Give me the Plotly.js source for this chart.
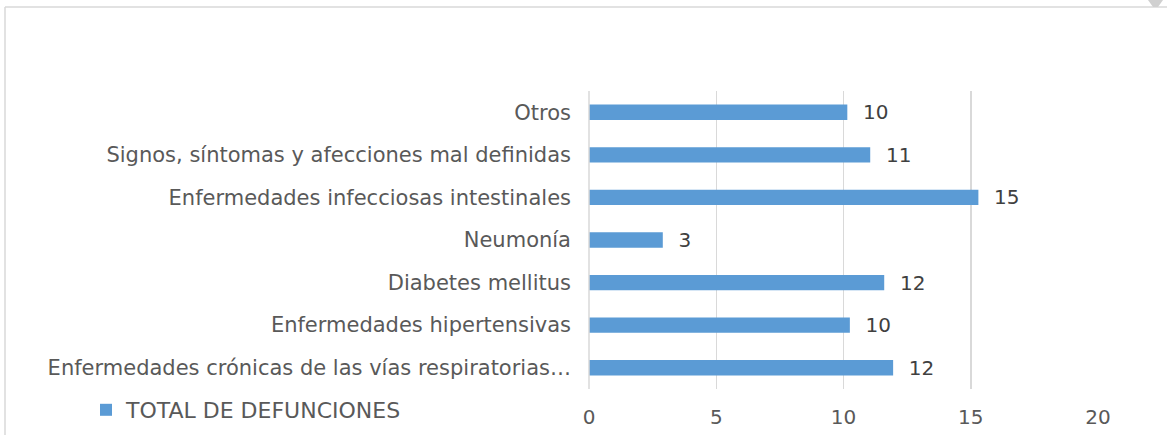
<!DOCTYPE html>
<html>
<head>
<meta charset="utf-8">
<script src="https://cdn.plot.ly/plotly-3.0.1.min.js"></script>
<style>html,body{margin:0;padding:0;background:#fff;}#chart{width:1167px;height:435px;}</style>
</head>
<body>
<div id="chart"></div>
<script>
// Categories listed bottom to top
const categories = [
  "Enfermedades crónicas de las vías respiratorias…",
  "Enfermedades hipertensivas",
  "Diabetes mellitus",
  "Neumonía",
  "Enfermedades infecciosas intestinales",
  "Signos, síntomas y afecciones mal definidas",
  "Otros"
];
const values = [11.95, 10.25, 11.6, 2.9, 15.3, 11.05, 10.15];
const valueLabels = ["12", "10", "12", "3", "15", "11", "10"];
const seriesName = "TOTAL DE DEFUNCIONES";
const xTicks = [0, 5, 10, 15, 20];

const W = 1167, H = 435;
const m = {l: 589, r: 69, t: 91, b: 46};
const pw = W - m.l - m.r, ph = H - m.t - m.b;
const px = v => (v - m.l) / pw;
const py = v => (H - m.b - v) / ph;

const font = "'DejaVu Sans'";

const trace = {
  type: "bar",
  orientation: "h",
  y: categories,
  x: values,
  name: seriesName,
  text: valueLabels,
  texttemplate: "\u00a0\u00a0%{text}",
  textposition: "outside",
  constraintext: "none",
  cliponaxis: false,
  textfont: {family: font, size: 20, color: "#404040"},
  marker: {color: "#5b9bd5"},
  showlegend: true,
  hoverinfo: "x+y"
};

const layout = {
  width: W, height: H,
  margin: m,
  paper_bgcolor: "#fff",
  plot_bgcolor: "#fff",
  bargap: 0.64,
  font: {family: font, size: 20, color: "#595959"},
  xaxis: {
    range: [0, 20],
    tickvals: xTicks,
    ticktext: xTicks.map(String),
    showgrid: true,
    gridcolor: "#d9d9d9",
    gridwidth: 1.5,
    zeroline: false,
    showline: false,
    ticks: "",
    ticklabelstandoff: 14,
    tickfont: {family: font, size: 20, color: "#595959"},
    fixedrange: true
  },
  yaxis: {
    type: "category",
    categoryorder: "array",
    categoryarray: categories,
    showgrid: false,
    zeroline: false,
    showline: false,
    ticks: "",
    ticklabelstandoff: 17,
    tickfont: {family: font, size: 21, color: "#595959"},
    fixedrange: true
  },
  legend: {
    orientation: "h",
    xref: "container", yref: "container",
    x: 86 / W, xanchor: "left",
    y: 1 - 410 / H, yanchor: "middle",
    font: {family: font, size: 22, color: "#595959"},
    itemwidth: 30,
    bgcolor: "rgba(0,0,0,0)"
  },
  shapes: [
    {type: "line", xref: "paper", yref: "paper", x0: 0, x1: 0, y0: 0, y1: 1,
     line: {color: "#d9d9d9", width: 1.5}, layer: "above"},
    {type: "line", xref: "paper", yref: "paper", x0: px(5), x1: px(W), y0: py(7), y1: py(7),
     line: {color: "#d9d9d9", width: 1.5}},
    {type: "line", xref: "paper", yref: "paper", x0: px(5), x1: px(5), y0: py(7), y1: py(H),
     line: {color: "#d9d9d9", width: 1.5}},
    {type: "path", xref: "paper", yref: "paper",
     path: "M " + px(1148) + " " + py(0) + " L " + px(1163) + " " + py(0) + " L " + px(1158) + " " + py(7) + " L " + px(1153) + " " + py(7) + " Z",
     fillcolor: "#d0d0d0", line: {width: 0}}
  ]
};

Plotly.newPlot("chart", [trace], layout, {staticPlot: true, displayModeBar: false});
</script>
</body>
</html>
